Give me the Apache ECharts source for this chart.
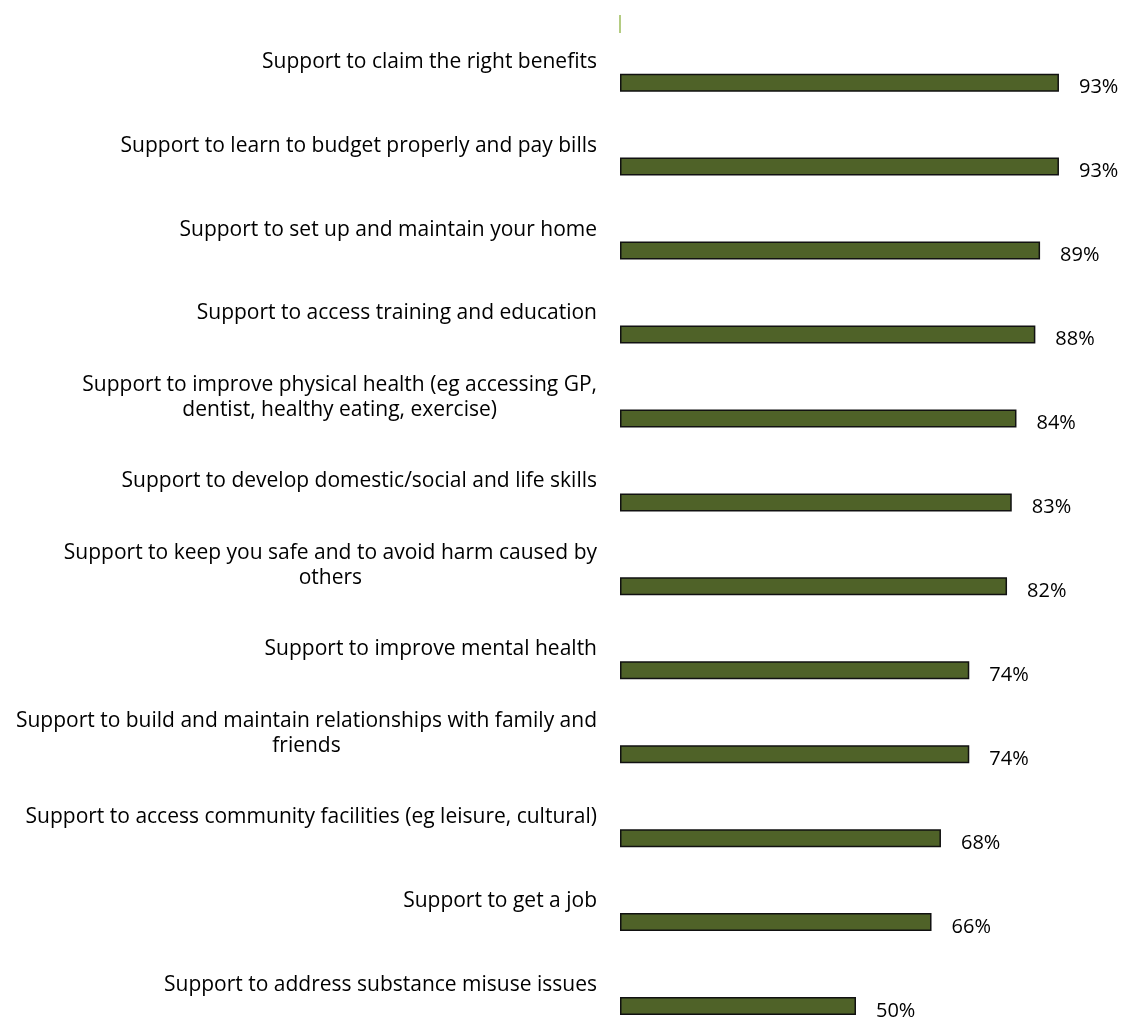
<!DOCTYPE html>
<html>
<head>
<meta charset="utf-8">
<script src="https://cdn.jsdelivr.net/npm/echarts@6/dist/echarts.min.js"></script>
<style>html,body{margin:0;padding:0;background:#fff;overflow:hidden}#c{width:1123px;height:1080px}</style>
</head>
<body>
<div id="c"></div>
<script>
const categories = [
  "Support to claim the right benefits",
  "Support to learn to budget properly and pay bills",
  "Support to set up and maintain your home",
  "Support to access training and education",
  "Support to improve physical health (eg accessing GP,\ndentist, healthy eating, exercise)",
  "Support to develop domestic/social and life skills",
  "Support to keep you safe and to avoid harm caused by\nothers",
  "Support to improve mental health",
  "Support to build and maintain relationships with family and\nfriends",
  "Support to access community facilities (eg leisure, cultural)",
  "Support to get a job",
  "Support to address substance misuse issues"
];
const values = [93, 93, 89, 88, 84, 83, 82, 74, 74, 68, 66, 50];

const FONT = "Open Sans";
const FS = 21;
const canvas = document.createElement('canvas');
const ctx = canvas.getContext('2d');
ctx.font = FS + 'px "' + FONT + '"';
const rich = {};
const labelText = categories.map((c, i) => {
  const lines = c.split('\n');
  const w = Math.max(...lines.map(l => ctx.measureText(l).width)) + 2;
  rich['w' + i] = {width: w, align: 'center', fontFamily: FONT, fontSize: FS, color: '#000', lineHeight: 25};
  return lines.map(l => '{w' + i + '|' + l + '}').join('\n');
});

const chart = echarts.init(document.getElementById('c'), null, {renderer: 'canvas'});
chart.setOption({
  animation: false,
  grid: {left: 620, top: 40.7, width: 472, height: 1007.3, containLabel: false},
  xAxis: {type: 'value', min: 0, max: 100, show: false},
  yAxis: {
    type: 'category', inverse: true,
    data: categories,
    axisLine: {show: false}, axisTick: {show: false},
    axisLabel: {
      margin: 22,
      formatter: (v, idx) => labelText[idx],
      rich: rich,
      padding: [0, 0, 42, 0]
    }
  },
  series: [{
    type: 'bar',
    data: values,
    barWidth: 18,
    itemStyle: {color: '#4F6228', borderColor: '#111', borderWidth: 1.5},
    label: {
      show: true, position: 'right', distance: 20, offset: [0, 5],
      formatter: '{c}%', fontFamily: FONT, fontSize: FS - 1, color: '#000'
    }
  }]
});
const px = chart.convertToPixel({gridIndex: 0}, [0, 0]);
chart.setOption({
  graphic: [{type: 'line', shape: {x1: px[0], y1: 15, x2: px[0], y2: 33}, style: {stroke: '#9BBB59', lineWidth: 1.5}}]
});
</script>
</body>
</html>
